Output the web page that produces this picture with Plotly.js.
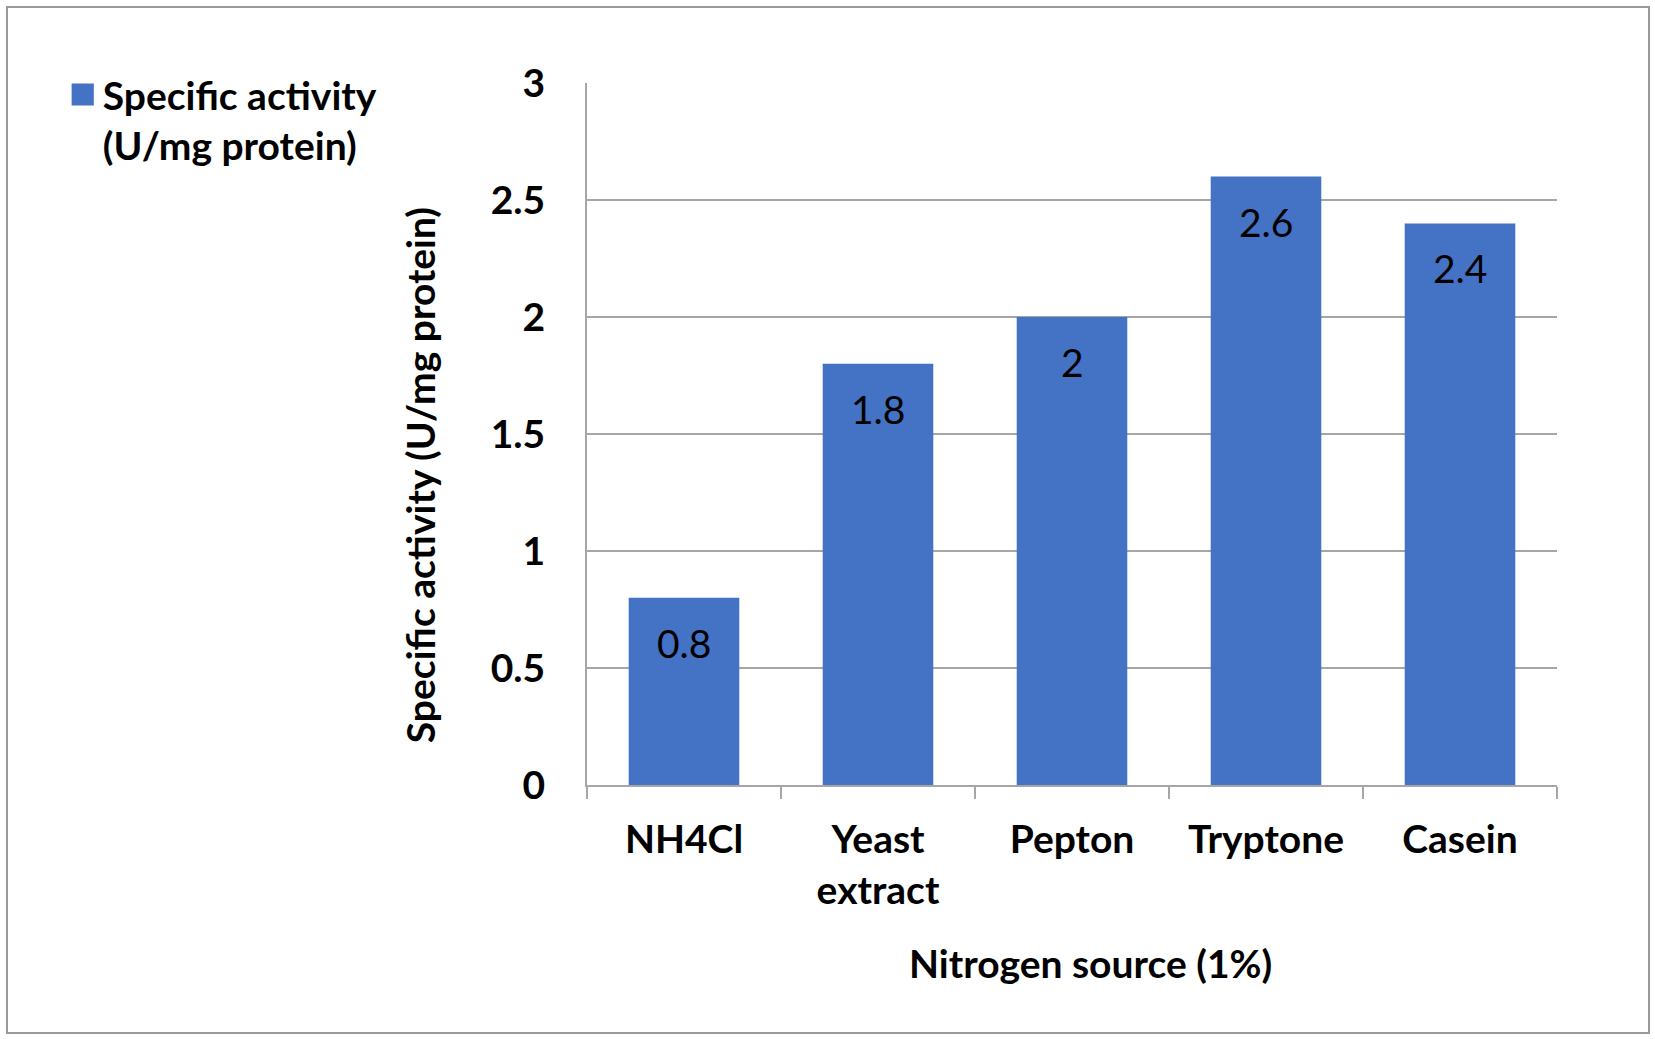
<!DOCTYPE html>
<html>
<head>
<meta charset="utf-8">
<script src="https://cdn.plot.ly/plotly-3.0.1.min.js"></script>
<style>
  html, body { margin: 0; padding: 0; background: #fff; }
  #wrap { position: relative; width: 1655px; height: 1039px; }
  #chart { position: absolute; left: 0; top: 0; width: 1655px; height: 1039px; }
  #frame { position: absolute; left: 6px; top: 6px; width: 1640px; height: 1024px;
           border: 2px solid #9a9a9a; pointer-events: none; }
</style>
</head>
<body>
<div id="wrap">
  <div id="chart"></div>
  <div id="frame"></div>
</div>
<script>
// ---- data ----
const categories = ["NH4Cl", "Yeast<br>extract", "Pepton", "Tryptone", "Casein"];
const specificActivity = [0.8, 1.8, 2, 2.6, 2.4];
const seriesName = "Specific activity<br>(U/mg protein)";
const xTitle = "Nitrogen source (1%)";
const yTitle = "Specific activity (U/mg protein)";
const yTickVals = [0, 0.5, 1, 1.5, 2, 2.5, 3];
const yTickText = ["0", "0.5", "1", "1.5", "2", "2.5", "3"];

const BLUE = "#4472C4";
const GRID = "#a6a6a6";
const FONT = "Lato, 'Open Sans', sans-serif";
const FS = 39;

const trace = {
  type: "bar",
  x: categories,
  y: specificActivity,
  name: seriesName,
  marker: { color: BLUE },
  showlegend: true,
  hoverinfo: "x+y"
};

const valueLabels = categories.map((c, i) => ({
  x: c, y: specificActivity[i], xref: "x", yref: "y",
  text: String(specificActivity[i]),
  showarrow: false, yshift: -45,
  font: { family: FONT, size: FS, color: "#000" }
}));

const layout = {
  width: 1655, height: 1039,
  margin: { l: 587, r: 98, t: 83, b: 254 },
  paper_bgcolor: "#fff", plot_bgcolor: "#fff",
  font: { family: FONT, size: FS, color: "#000" },
  bargap: 0.43,
  xaxis: {
    type: "category",
    showgrid: false,
    showline: true, linecolor: GRID, linewidth: 2,
    ticks: "outside", tickson: "boundaries", ticklen: 12, tickwidth: 2, tickcolor: GRID,
    tickfont: { family: FONT, size: FS, color: "#000", weight: 700 },
    ticklabelstandoff: 19,
    zeroline: false
  },
  yaxis: {
    range: [0, 3],
    tickvals: yTickVals, ticktext: yTickText,
    showgrid: true, gridcolor: GRID, gridwidth: 2,
    showline: true, linecolor: GRID, linewidth: 2,
    zeroline: false,
    ticks: "",
    tickfont: { family: FONT, size: FS, color: "#000", weight: 700 },
    ticklabelstandoff: 32
  },
  showlegend: true,
  legend: {
    x: -0.5405, y: 1.029, xanchor: "left", yanchor: "top",
    valign: "top",
    font: { family: FONT, size: FS, color: "#000", weight: 700 },
    bgcolor: "rgba(0,0,0,0)", borderwidth: 0,
    itemclick: false, itemdoubleclick: false
  },
  annotations: valueLabels.concat([
    {
      text: xTitle, xref: "paper", yref: "paper",
      x: 0.5186, y: -0.2536, xanchor: "center", yanchor: "middle",
      showarrow: false,
      font: { family: FONT, size: FS, color: "#000", weight: 700 }
    },
    {
      text: yTitle, xref: "paper", yref: "paper",
      x: -0.172, y: 0.4416, xanchor: "center", yanchor: "middle",
      textangle: -90, showarrow: false,
      font: { family: FONT, size: FS, color: "#000", weight: 700 }
    }
  ])
};

Plotly.newPlot("chart", [trace], layout, { displayModeBar: false, staticPlot: true }).then(gd => {
  // enlarge legend swatch to match the reference's square
  gd.querySelectorAll(".legendpoints path").forEach(p => {
    const t = p.getAttribute("transform") || "";
    p.setAttribute("transform", t + " scale(1.85)");
  });
});
</script>
</body>
</html>
